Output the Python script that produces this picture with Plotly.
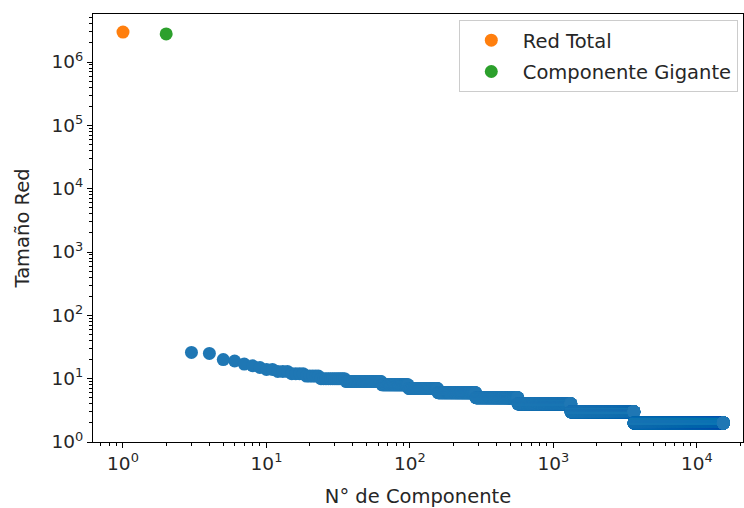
import numpy as np
import plotly.graph_objects as go

# ---- data ----
total_x = [1]
total_y = [2.97e6]
giant_x = [2]
giant_y = [2.78e6]

# remaining components, sorted by size (run-length: size, how many components)
comp_sizes = [26, 25, 20, 19, 17, 16, 15, 14, 13, 12, 11, 10, 9, 8, 7, 6, 5, 4, 3, 2]
comp_counts = [1, 1, 1, 1, 1, 1, 1, 2, 3, 4, 5, 12, 28, 34, 59, 131, 278, 758, 2316, 11661]
comp_first_rank = 3

x_tick_vals = [1, 10, 100, 1000, 10000]
x_tick_text = ["10<sup>0</sup>", "10<sup>1</sup>", "10<sup>2</sup>", "10<sup>3</sup>", "10<sup>4</sup>"]
y_tick_vals = [1, 10, 100, 1000, 10000, 100000, 1000000]
y_tick_text = ["10<sup>0</sup>", "10<sup>1</sup>", "10<sup>2</sup>", "10<sup>3</sup>",
               "10<sup>4</sup>", "10<sup>5</sup>", "10<sup>6</sup>"]

comp_y = np.repeat(comp_sizes, comp_counts)
comp_x = np.arange(comp_first_rank, comp_first_rank + len(comp_y))

x_range = [-0.209, 4.321]
y_range = [0.0, 6.758]


def minor_vals(lo, hi):
    vals = []
    for d in range(int(np.floor(lo)) - 1, int(np.ceil(hi)) + 1):
        for k in range(2, 10):
            v = k * 10.0 ** d
            if lo <= np.log10(v) <= hi:
                vals.append(v)
    return vals


FONT = "DejaVu Sans"
TXT = "#262626"
TICK_FS = 18.5
LAB_FS = 19.5
MS = 13

fig = go.Figure()
fig.add_trace(go.Scatter(x=comp_x, y=comp_y, mode="markers",
                         marker=dict(color="#1f77b4", size=MS, line=dict(width=0)),
                         showlegend=False, hoverinfo="skip"))
fig.add_trace(go.Scatter(x=total_x, y=total_y, mode="markers", name="Red Total",
                         legendgroup="a",
                         marker=dict(color="#ff7f0e", size=MS, line=dict(width=0))))
fig.add_trace(go.Scatter(x=giant_x, y=giant_y, mode="markers", name="Componente Gigante",
                         legendgroup="b",
                         marker=dict(color="#2ca02c", size=MS, line=dict(width=0))))

axis_common = dict(
    type="log", showgrid=False, zeroline=False,
    showline=True, linecolor="black", linewidth=1, mirror=True,
    ticks="outside", ticklen=5, tickwidth=1, tickcolor="black",
    tickmode="array",
    tickfont=dict(family=FONT, size=TICK_FS, color=TXT),
)

fig.update_xaxes(
    **axis_common, range=x_range, tickvals=x_tick_vals, ticktext=x_tick_text,
    minor=dict(tickmode="array", tickvals=minor_vals(*x_range), ticks="outside",
               ticklen=3, tickwidth=1, tickcolor="black", showgrid=False),
    title=dict(text="N° de Componente", font=dict(family=FONT, size=LAB_FS, color=TXT), standoff=17),
)
fig.update_yaxes(
    **axis_common, range=y_range, tickvals=y_tick_vals, ticktext=y_tick_text,
    minor=dict(tickmode="array", tickvals=minor_vals(*y_range), ticks="outside",
               ticklen=3, tickwidth=1, tickcolor="black", showgrid=False),
    title=dict(text="Tamaño Red", font=dict(family=FONT, size=LAB_FS, color=TXT), standoff=16),
)

fig.update_layout(
    width=744, height=508,
    margin=dict(l=93, r=1, t=14, b=66, autoexpand=False),
    paper_bgcolor="white", plot_bgcolor="white",
    font=dict(family=FONT, size=LAB_FS, color=TXT),
    legend=dict(x=0.992, y=0.986, xanchor="right", yanchor="top",
                bgcolor="rgba(255,255,255,0.8)", bordercolor="#cccccc", borderwidth=1,
                tracegroupgap=3, itemwidth=53,
                font=dict(family=FONT, size=LAB_FS, color=TXT)),
    showlegend=True,
)

fig.write_html("out.html")
